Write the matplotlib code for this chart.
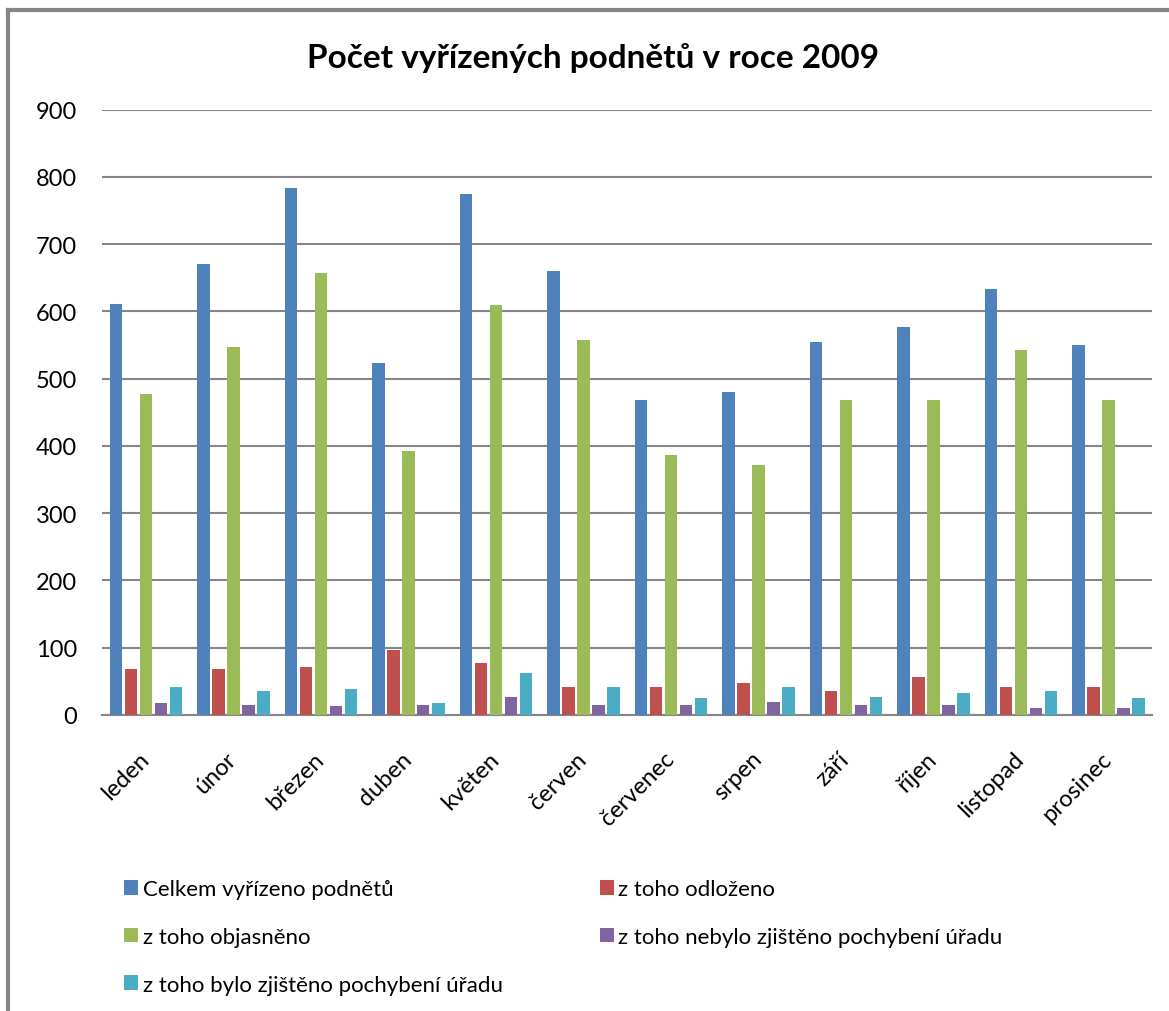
import matplotlib
matplotlib.use('Agg')
import matplotlib.pyplot as plt
from matplotlib.lines import Line2D
import numpy as np

plt.rcParams['font.family'] = ['Lato', 'DejaVu Sans']

months = ["leden", "únor", "březen", "duben", "květen", "červen",
          "červenec", "srpen", "září", "říjen", "listopad", "prosinec"]
series_names = ["Celkem vyřízeno podnětů", "z toho odloženo", "z toho objasněno",
                "z toho nebylo zjištěno pochybení úřadu", "z toho bylo zjištěno pochybení úřadu"]
celkem = [611, 671, 783, 523, 775, 660, 469, 481, 554, 577, 633, 550]
odlozeno = [68, 68, 71, 97, 77, 42, 41, 47, 36, 56, 42, 41]
objasneno = [477, 547, 657, 393, 609, 557, 387, 372, 469, 469, 542, 469]
nebylo = [18, 15, 14, 15, 27, 15, 15, 20, 15, 15, 11, 11]
bylo = [42, 36, 39, 18, 62, 41, 26, 41, 27, 32, 35, 26]
colors = ["#4F81BD", "#C0504D", "#9BBB59", "#8064A2", "#4BACC6"]
yticks = [0, 100, 200, 300, 400, 500, 600, 700, 800, 900]

W, H = 1169, 1012
fig = plt.figure(figsize=(W / 100, H / 100), dpi=100)
ax = fig.add_axes([102 / W, (H - 716) / H, 1050 / W, (716 - 110.7) / H])

x = np.arange(len(months))
step = 15 / 87.5
width = 12.5 / 87.5
bars = []
for i, vals in enumerate([celkem, odlozeno, objasneno, nebylo, bylo]):
    b = ax.bar(x + (i - 2) * step, vals, width, color=colors[i], label=series_names[i], zorder=3)
    bars.append(b)

ax.set_xlim(-0.5, len(months) - 0.5)
ax.set_ylim(0, 900)
ax.set_yticks(yticks)
ax.set_yticklabels([str(v) for v in yticks], fontsize=17)
ax.yaxis.grid(True, color="#868686", lw=1.5, zorder=0)
ax.tick_params(axis='y', length=0, pad=18)
ax.tick_params(axis='x', length=0, pad=29)
ax.set_xticks(x)
ax.set_xticklabels(months, rotation=45, ha='right', va='center',
                   rotation_mode='anchor', fontsize=17)
for s in ['top', 'right', 'left']:
    ax.spines[s].set_visible(False)
ax.spines['bottom'].set_color("#868686")
ax.spines['bottom'].set_linewidth(1.5)

fig.text(593 / W, 1 - 58 / H, "Počet vyřízených podnětů v roce 2009",
         ha='center', va='center', fontsize=24, fontweight='bold')

# legend, row-major order
order = [0, 2, 4, 1, 3]
handles = [bars[i] for i in order]
labels = [series_names[i] for i in order]
fig.legend(handles, labels, ncol=2, loc='upper left',
           bbox_to_anchor=(104 / W, 1 - 860 / H), frameon=False, fontsize=16,
           handlelength=0.65, handleheight=0.65, handletextpad=0.2,
           columnspacing=4.35, labelspacing=1.25)

# chart frame
fig.add_artist(Line2D([8 / W, 8 / W], [0, 1 - 11 / H], color="#868686", lw=3))
fig.add_artist(Line2D([8 / W, 1], [1 - 11 / H, 1 - 11 / H], color="#868686", lw=3))

fig.savefig("out.png", dpi=100, facecolor="white")
